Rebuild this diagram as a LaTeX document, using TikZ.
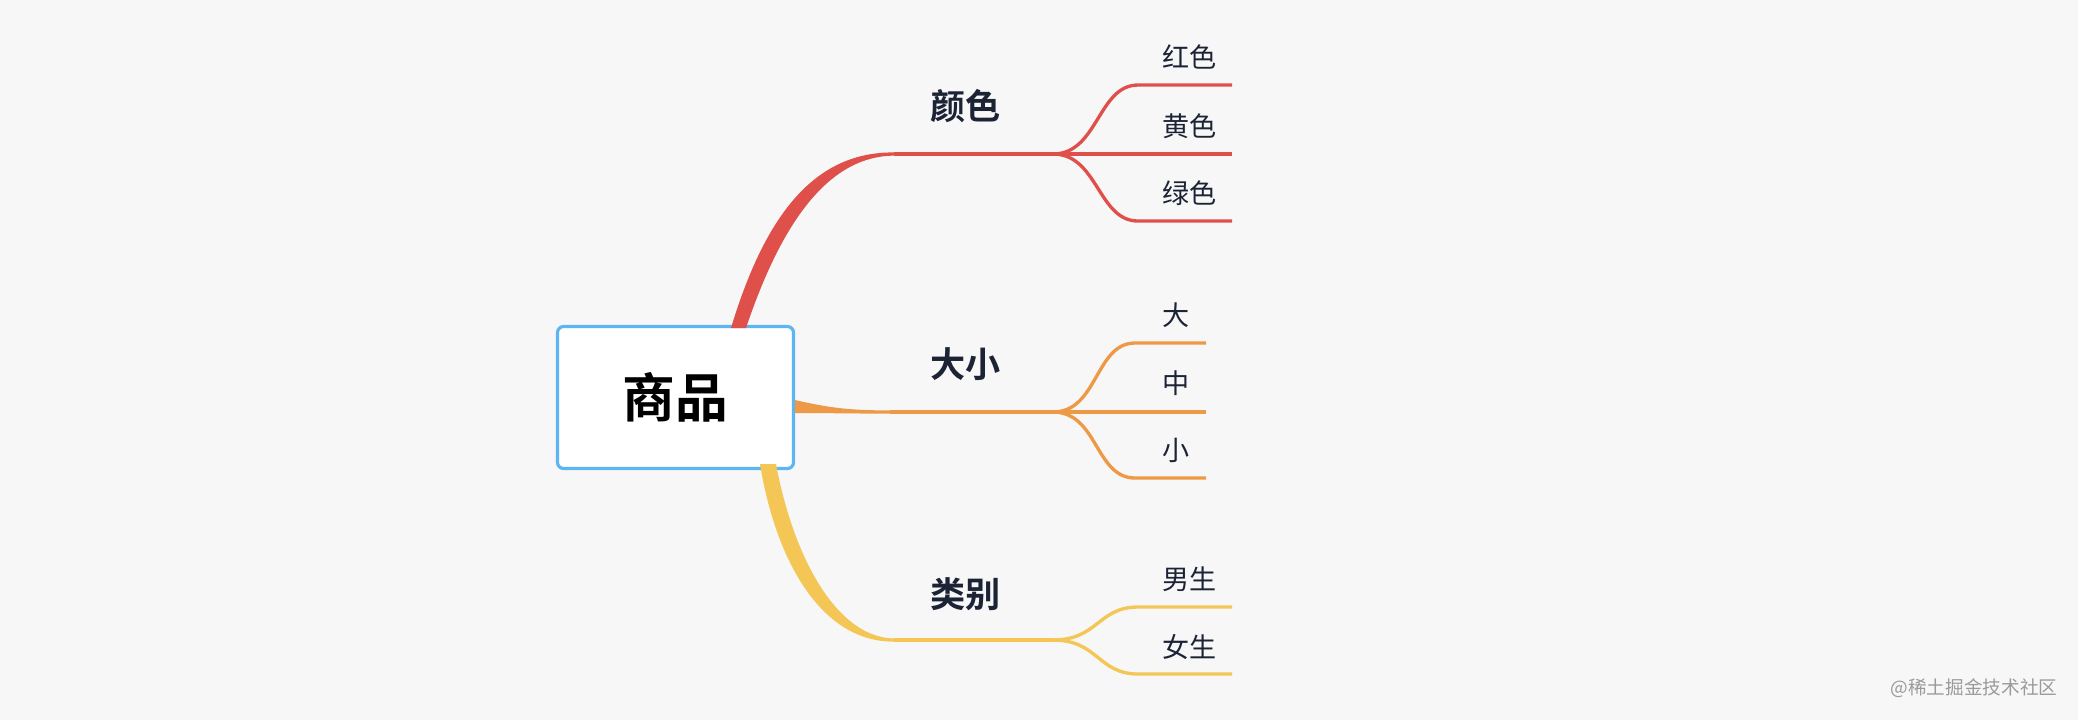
\documentclass[tikz,border=0pt]{standalone}
\usepackage{fontspec}
\setmainfont[BoldFont={Noto Sans CJK SC Medium}]{Noto Sans CJK SC}
\newfontfamily\heavy{Noto Sans CJK SC Bold}
\usetikzlibrary{positioning,calc}
\definecolor{cBg}{HTML}{F7F7F8}
\definecolor{cBox}{HTML}{5DB5F1}
\definecolor{cRed}{HTML}{E0504A}
\definecolor{cOra}{HTML}{EE9945}
\definecolor{cYel}{HTML}{F4C655}
\definecolor{cTxt}{HTML}{1B2335}
\definecolor{cMark}{HTML}{9A9A9A}
\tikzset{
  root/.style={draw=cBox,line width=0.9pt,fill=white,rounded corners=1.8pt,
               minimum width=2.36cm,minimum height=1.42cm,
               font=\fontsize{15}{15}\selectfont\heavy},
  topic/.style={anchor=west,inner sep=0pt,text=cTxt,
               font=\fontsize{10}{10}\selectfont\heavy},
  leaf/.style={anchor=west,inner sep=0pt,text=cTxt,
               font=\fontsize{7.7}{8}\selectfont},
  twig/.style={line width=0.95pt},
}

\begin{document}
\begin{tikzpicture}[x=0.01cm,y=-0.01cm]
  \fill[cBg] (0,0) rectangle (2078,720);
  \useasboundingbox (0,0) rectangle (2078,720);

  \node[root] (goods) at (675.5,397.5) {商品};

  % topics
  \node[topic] (color) at (930,106) {颜色};
  \node[topic] (size)  at (930,364) {大小};
  \node[topic] (kind)  at (930,594) {类别};

  % leaves
  \node[leaf] (red)    at (1162,57)  {红色};
  \node[leaf] (yellow) at (1162,126) {黄色};
  \node[leaf] (green)  at (1162,193) {绿色};
  \node[leaf] (big)    at (1162,315) {大};
  \node[leaf] (mid)    at (1162,383) {中};
  \node[leaf] (small)  at (1162,450) {小};
  \node[leaf] (male)   at (1162,579) {男生};
  \node[leaf] (female) at (1162,647) {女生};

  % fork points and line ends
  \coordinate (rA) at (894,154);  \coordinate (rF) at (1053,154);
  \coordinate (oA) at (890,412);  \coordinate (oF) at (1053,412);
  \coordinate (yA) at (894,640);  \coordinate (yF) at (1053,640);
  \coordinate (r1a) at (1138,85);  \coordinate (r1) at (1232,85);
  \coordinate (r2)  at (1232,154);
  \coordinate (r3a) at (1138,221); \coordinate (r3) at (1232,221);
  \coordinate (o1a) at (1135,343); \coordinate (o1) at (1206,343);
  \coordinate (o2)  at (1206,412);
  \coordinate (o3a) at (1135,478); \coordinate (o3) at (1206,478);
  \coordinate (y1a) at (1138,607); \coordinate (y1) at (1232,607);
  \coordinate (y2a) at (1138,674); \coordinate (y2) at (1232,674);

  % tapered main branches
  \fill[cRed] (731,328) .. controls (766,212) and (816,151.8) .. (894,152.4)
     -- (894,155.6) .. controls (832,156.2) and (784,215) .. (746,328) -- cycle;
  \fill[cOra] (795,400) .. controls (830,408) and (850,410.4) .. (890,410.4)
     -- (890,413.6) .. controls (850,413.6) and (830,413) .. (795,413) -- cycle;
  \fill[cYel] (760,464) .. controls (776,562) and (822,642.2) .. (894,641.6)
     -- (894,638.4) .. controls (838,637.8) and (794,560) .. (776,464) -- cycle;

  \draw[twig,cRed] (rA) -- (rF);
  \draw[twig,cRed] (rF) .. controls +(45,0) and +(-40,0) .. (r1a) -- (r1);
  \draw[twig,cRed] (rF) -- (r2);
  \draw[twig,cRed] (rF) .. controls +(45,0) and +(-40,0) .. (r3a) -- (r3);

  \draw[twig,cOra] (oA) -- (oF);
  \draw[twig,cOra] (oF) .. controls +(45,0) and +(-40,0) .. (o1a) -- (o1);
  \draw[twig,cOra] (oF) -- (o2);
  \draw[twig,cOra] (oF) .. controls +(45,0) and +(-40,0) .. (o3a) -- (o3);

  \draw[twig,cYel] (yA) -- (yF);
  \draw[twig,cYel] (yF) .. controls +(45,0) and +(-40,0) .. (y1a) -- (y1);
  \draw[twig,cYel] (yF) .. controls +(45,0) and +(-40,0) .. (y2a) -- (y2);

  \node[anchor=east,inner sep=0pt,text=cMark,font=\fontsize{5.3}{6}\selectfont]
    (mark) at (2058,688) {@稀土掘金技术社区};
\end{tikzpicture}
\end{document}
